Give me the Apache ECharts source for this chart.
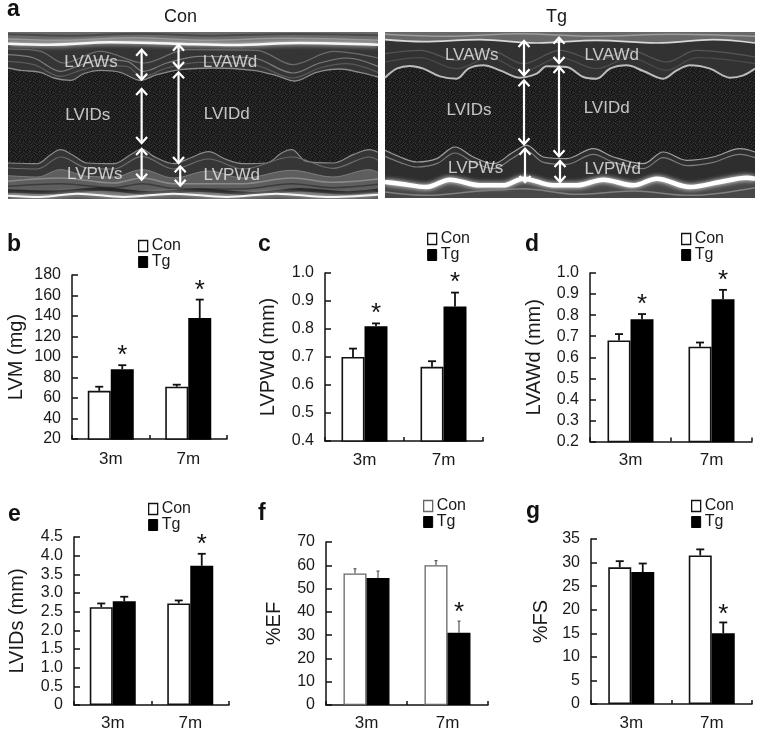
<!DOCTYPE html>
<html><head><meta charset="utf-8">
<style>html,body{margin:0;padding:0;background:#fff}#c{width:757px;height:732px}</style>
<script src="https://cdn.jsdelivr.net/npm/echarts@6/dist/echarts.min.js"></script>
</head><body><div id="c"></div>
<script>
const categories = ['3m','7m'];
const seriesNames = ['Con','Tg'];

const lvmCon=[67,71], lvmTg=[88,138], lvmConTop=[71,73], lvmTgTop=[92,156], lvmStars=[[0,105.8],[1,169.3]];
const lvpwdCon=[0.70,0.665], lvpwdTg=[0.81,0.88], lvpwdConTop=[0.73,0.685], lvpwdTgTop=[0.82,0.93], lvpwdStars=[[0,0.872],[1,0.982]];
const lvawdCon=[0.68,0.65], lvawdTg=[0.78,0.875], lvawdConTop=[0.71,0.67], lvawdTgTop=[0.805,0.92], lvawdStars=[[0,0.872],[1,0.986]];
const lvidsCon=[2.62,2.72], lvidsTg=[2.78,3.73], lvidsConTop=[2.72,2.8], lvidsTgTop=[2.9,4.05], lvidsStars=[[1,4.42]];
const efCon=[56.5,60], efTg=[54.5,31], efConTop=[58.5,62], efTgTop=[57.5,36], efStars=[[1,41.8]];
const fsCon=[29,31.5], fsTg=[28,15], fsConTop=[30.3,32.8], fsTgTop=[29.8,17.3], fsStars=[[1,20]];

// M-mode traces: [time, depth]
const conStreakA=[[22,104],[200,108],[420,102],[640,108],[880,103],[1135,107]];
const conStreakB=[[22,118],[180,122],[400,114],[620,122],[860,116],[1135,122]];
const conOuter=[[22,132],[150,135],[330,128],[520,132],[700,136],[900,130],[1135,135]];
const conLayerA=[[22,148],[120,155],[190,190],[300,155],[430,190],[560,150],[770,152],[880,195],[1000,155],[1135,175]];
const conLayerB=[[22,165],[100,175],[180,215],[230,200],[300,180],[380,185],[430,215],[500,190],[600,170],[760,175],[880,220],[960,190],[1040,175],[1135,200]];
const conLayerC=[[22,185],[100,195],[180,230],[240,212],[300,198],[380,200],[425,232],[500,205],[600,188],[760,195],[880,235],[960,205],[1040,192],[1135,218]];
const conEndoTop=[[22,205],[60,212],[120,218],[160,235],[210,242],[250,222],[300,212],[360,218],[420,242],[470,225],[540,210],[640,205],[760,212],[830,228],[885,244],[950,218],[1020,208],[1080,218],[1135,232]];
const conEndoBottom=[[22,490],[110,492],[150,465],[180,450],[215,465],[260,490],[340,492],[395,462],[425,448],[460,470],[520,492],[570,475],[625,456],[680,480],[730,492],[800,490],[845,460],[875,450],[920,485],[1000,490],[1060,465],[1110,450],[1135,458]];
const conLayerD=[[22,505],[110,508],[180,472],[260,505],[340,508],[425,470],[520,508],[625,478],[730,508],[875,472],[1000,506],[1110,472],[1135,482]];
const conBandBottom=[[22,528],[110,532],[180,510],[260,530],[340,532],[425,510],[520,535],[625,514],[730,535],[875,512],[1000,532],[1110,510],[1135,518]];
const conStreakC=[[22,545],[180,535],[340,550],[425,535],[520,552],[730,552],[875,535],[1000,548],[1135,538]];
const conStreakD=[[22,560],[180,552],[340,564],[425,552],[520,566],[730,568],[875,552],[1000,564],[1135,554]];
const conDarkBottom=[[22,574],[150,578],[300,568],[450,580],[600,572],[760,582],[900,570],[1040,580],[1135,572]];
const conEdgeBottom=[[22,588],[120,592],[230,582],[370,592],[520,582],[680,592],[830,582],[980,592],[1135,585]];

const tgStreakA=[[15,102],[200,108],[420,100],[640,108],[880,102],[1125,108]];
const tgOuter=[[15,118],[130,124],[300,118],[470,128],[650,120],[830,128],[1000,118],[1125,128]];
const tgLayerA=[[15,160],[120,150],[230,180],[330,150],[430,190],[540,150],[650,180],[750,150],[860,185],[950,150],[1125,170]];
const tgLayerD=[[15,185],[120,172],[230,205],[330,172],[430,212],[540,172],[650,205],[750,172],[860,210],[950,172],[1125,190]];
const tgEndoTop=[[15,232],[50,205],[90,197],[130,205],[180,228],[230,235],[265,205],[310,195],[360,210],[420,232],[470,220],[500,198],[560,200],[610,230],[650,235],[690,205],[740,195],[790,212],[850,235],[890,210],[930,195],[990,205],[1050,232],[1090,225],[1125,205]];
const tgEndoBottom=[[15,450],[60,470],[110,485],[170,475],[225,440],[280,470],[340,490],[400,455],[440,435],[490,470],[560,475],[640,445],[700,470],[790,490],[850,455],[920,480],[1000,470],[1080,445],[1125,455]];
const tgLayerB=[[15,468],[60,486],[110,500],[170,490],[225,458],[280,486],[340,505],[400,472],[440,452],[490,486],[560,492],[640,462],[700,486],[790,505],[850,472],[920,496],[1000,486],[1080,462],[1125,472]];
const tgBright=[[15,545],[60,550],[140,560],[210,538],[300,555],[370,555],[430,535],[520,555],[590,555],[670,538],[760,555],[830,535],[930,560],[1020,545],[1100,532],[1125,535]];
const tgLayerC=[[15,575],[140,585],[300,572],[430,565],[590,582],[760,572],[930,585],[1125,562]];

const conArrows=[[424,150,240],[424,268,430],[424,448,540],[535,135,205],[535,218,490],[540,500,558]];
const tgArrows=[[432,122,225],[432,240,432],[435,445,545],[537,112,188],[537,200,468],[540,482,545]];
const conLabels=[['LVAWs',272,187],['LVIDs',262,348],['LVPWs',283,524],['LVAWd',690,187],['LVIDd',680,343],['LVPWd',695,528]];
const tgLabels=[['LVAWs',275,165],['LVIDs',267,330],['LVPWs',287,505],['LVAWd',695,165],['LVIDd',680,325],['LVPWd',698,508]];

const FONT='"Liberation Sans", Arial, sans-serif';
const TXT='#1a1a1a';
const BAR_W=23;

const panels=[
 {letter:'b',lx:7,ly:245,l:72,r:227,t:275,b:439,min:20,max:180,iv:20,dec:0,name:'LVM (mg)',gap:46,mg:12,con:lvmCon,tg:lvmTg,ct:lvmConTop,tt:lvmTgTop,stars:lvmStars,lgx:138,lgy:238,border:'#111',bw:1.6,cap:8,ec:'#111'},
 {letter:'c',lx:258,ly:245,l:325,r:483,t:273,b:441,min:0.4,max:1.0,iv:0.1,dec:1,name:'LVPWd (mm)',gap:47,mg:11,con:lvpwdCon,tg:lvpwdTg,ct:lvpwdConTop,tt:lvpwdTgTop,stars:lvpwdStars,lgx:427,lgy:231,border:'#111',bw:1.6,cap:8,ec:'#111'},
 {letter:'d',lx:525,ly:245,l:590,r:752,t:273,b:441.5,min:0.2,max:1.0,iv:0.1,dec:1,name:'LVAWd (mm)',gap:46,mg:10,con:lvawdCon,tg:lvawdTg,ct:lvawdConTop,tt:lvawdTgTop,stars:lvawdStars,lgx:681,lgy:231,border:'#111',bw:1.6,cap:8,ec:'#111'},
 {letter:'e',lx:8,ly:515,l:74,r:229,t:537,b:705,min:0,max:4.5,iv:0.5,dec:1,name:'LVIDs (mm)',gap:47,mg:10,con:lvidsCon,tg:lvidsTg,ct:lvidsConTop,tt:lvidsTgTop,stars:lvidsStars,lgx:148,lgy:501,border:'#111',bw:1.6,cap:8,ec:'#111'},
 {letter:'f',lx:258,ly:514,l:326,r:488,t:542,b:706,min:0,max:70,iv:10,dec:0,name:'%EF',gap:42,mg:10,con:efCon,tg:efTg,ct:efConTop,tt:efTgTop,stars:efStars,lgx:423,lgy:498,border:'#666',bw:1.3,cap:3,ec:'#555'},
 {letter:'g',lx:526,ly:512,l:591,r:752,t:539,b:705,min:0,max:35,iv:5,dec:0,name:'%FS',gap:40,mg:11,con:fsCon,tg:fsTg,ct:fsConTop,tt:fsTgTop,stars:fsStars,lgx:691,lgy:498,border:'#111',bw:1.6,cap:8,ec:'#111'}
];

const grids=[], xAxes=[], yAxes=[], series=[], legends=[], graphics=[];

function letter(t,x,y){graphics.push({type:'text',left:x,top:y-12,style:{text:t,font:'bold 23px '+FONT,fill:'#111'},z:50});}
letter('a',7,10);

// Fixed speckle tile for the dark ultrasound background (texture only, carries no data)
const speckleRows=['0201030012','3012001203','1003210021','0120031102','2301002310','0012301003','1230020121','0301120300','2010302012','1102013001'];
const speckleTone=['#161616','#1f1f1f','#2a2a2a','#363636'];
function speckle(){
  const cv=document.createElement('canvas');cv.width=10;cv.height=10;
  const c=cv.getContext('2d');
  speckleRows.forEach((r,y)=>[...r].forEach((ch,x)=>{c.fillStyle=speckleTone[+ch];c.fillRect(x,y,1,1);}));
  return {image:cv,repeat:'repeat'};
}

// ---- M-mode panels
function addImage(box,xr,yr,layers,arrows,labels,title,tx){
  const g=grids.length;
  grids.push({left:box[0],top:box[1],width:box[2],height:box[3],show:true,backgroundColor:speckle(),borderWidth:0});
  xAxes.push({gridIndex:g,type:'value',min:xr[0],max:xr[1],show:false});
  yAxes.push({gridIndex:g,type:'value',min:yr[0],max:yr[1],inverse:true,show:false});
  layers.forEach((L,i)=>{
    const s={type:'line',xAxisIndex:g,yAxisIndex:g,data:L.d,showSymbol:false,smooth:0.35,silent:true,z:2+i*0.1,
      lineStyle:{color:L.c,width:L.w,opacity:L.w?1:0,shadowColor:L.glow||'transparent',shadowBlur:L.glow?5:0},animation:false};
    if(L.area){s.areaStyle={color:L.area,opacity:1,origin:L.o};}
    series.push(s);
  });
  series.push({type:'custom',xAxisIndex:g,yAxisIndex:g,z:20,silent:true,animation:false,clip:false,data:arrows,
    encode:{x:0,y:[1,2]},
    renderItem(p,api){
      const a=api.coord([api.value(0),api.value(1)]), b=api.coord([api.value(0),api.value(2)]);
      const st={stroke:'#fff',lineWidth:2.2,fill:null};
      const h=6,w=5.5;
      return {type:'group',children:[
        {type:'line',shape:{x1:a[0],y1:a[1]+1,x2:b[0],y2:b[1]-1},style:st},
        {type:'polyline',shape:{points:[[a[0]-w,a[1]+h],[a[0],a[1]],[a[0]+w,a[1]+h]]},style:st},
        {type:'polyline',shape:{points:[[b[0]-w,b[1]-h],[b[0],b[1]],[b[0]+w,b[1]-h]]},style:st}
      ]};
    }});
  series.push({type:'scatter',xAxisIndex:g,yAxisIndex:g,z:21,symbolSize:0,silent:true,animation:false,
    data:labels.map(l=>({name:l[0],value:[l[1],l[2]]})),
    label:{show:true,position:'inside',formatter:'{b}',color:'#ececec',fontFamily:FONT,fontSize:17}});
  graphics.push({type:'text',left:tx,top:8,style:{text:title,font:'18px '+FONT,fill:TXT,textAlign:'center'},z:50});
}
addImage([8,32,370,167],[22,1135],[97,598],[
  {d:conEndoTop,c:'#8a8a8a',w:1.3,area:'#353535',o:'start'},
  {d:conOuter,c:'#f6f6f6',w:2.5,area:'#6a6a6a',o:'start',glow:'#ffffff'},
  {d:conStreakA,c:'#4a4a4a',w:2},
  {d:conStreakB,c:'#9a9a9a',w:1.5},
  {d:conLayerA,c:'#6c6c6c',w:1.2},
  {d:conLayerB,c:'#7c7c7c',w:1.2},
  {d:conLayerC,c:'#5a5a5a',w:1.2},
  {d:conEndoBottom,c:'#8a8a8a',w:1.2,area:'#363636',o:'end'},
  {d:conLayerD,c:'#6c6c6c',w:1.2},
  {d:conBandBottom,c:'#7e7e7e',w:1,area:'#5e5e5e',o:'end'},
  {d:conStreakC,c:'#8a8a8a',w:1.5},
  {d:conStreakD,c:'#3c3c3c',w:1.5},
  {d:conDarkBottom,c:'#262626',w:3.5},
  {d:conEdgeBottom,c:'#f4f4f4',w:2,area:'#4c4c4c',o:'end',glow:'#ffffff'}
],conArrows,conLabels,'Con',164);
addImage([385,32,370,166],[15,1125],[95,593],[
  {d:tgEndoTop,c:'#bcbcbc',w:2,area:'#323232',o:'start'},
  {d:tgOuter,c:'#d8d8d8',w:1.6,area:'#696969',o:'start'},
  {d:tgStreakA,c:'#9c9c9c',w:1.5},
  {d:tgLayerA,c:'#565656',w:1.2},
  {d:tgLayerD,c:'#4c4c4c',w:1.2},
  {d:tgEndoBottom,c:'#a0a0a0',w:1.2,area:'#2e2e2e',o:'end'},
  {d:tgLayerB,c:'#7c7c7c',w:1.2},
  {d:tgBright,c:'#ffffff',w:4.5,area:'#484848',o:'end',glow:'#ffffff'},
  {d:tgLayerC,c:'#808080',w:1.5}
],tgArrows,tgLabels,'Tg',546);

// ---- Bar panels
panels.forEach(P=>{
  const g=grids.length;
  grids.push({left:P.l,top:P.t,width:P.r-P.l,height:P.b-P.t});
  xAxes.push({gridIndex:g,type:'category',data:categories,boundaryGap:true,
    axisLine:{show:true,lineStyle:{color:'#111',width:1.5}},
    axisTick:{show:true,inside:true,length:4,lineStyle:{color:'#111',width:1.5}},
    axisLabel:{color:TXT,fontFamily:FONT,fontSize:17,margin:P.mg}});
  yAxes.push({gridIndex:g,type:'value',min:P.min,max:P.max,interval:P.iv,
    name:P.name,nameLocation:'middle',nameGap:P.gap,nameRotate:90,
    nameTextStyle:{color:TXT,fontFamily:FONT,fontSize:20},
    splitLine:{show:false},
    axisLine:{show:true,onZero:false,lineStyle:{color:'#111',width:1.5}},
    axisTick:{show:true,inside:true,length:6,lineStyle:{color:'#111',width:1.5}},
    axisLabel:{color:TXT,fontFamily:FONT,fontSize:16,margin:11,
      formatter:v=>(P.dec&&v!==0)?v.toFixed(P.dec):String(Math.round(v))}});
  series.push({type:'bar',name:'Con',xAxisIndex:g,yAxisIndex:g,data:P.con,barWidth:BAR_W,barGap:'0%',animation:false,
    itemStyle:{color:'#fff',borderColor:P.border,borderWidth:P.bw}});
  series.push({type:'bar',name:'Tg',xAxisIndex:g,yAxisIndex:g,data:P.tg,barWidth:BAR_W,barGap:'0%',animation:false,
    itemStyle:{color:'#000',borderColor:'#000',borderWidth:P.bw}});
  const errSeries=(vals,tops,sign)=>({type:'custom',xAxisIndex:g,yAxisIndex:g,z:1,animation:false,silent:true,
    data:vals.map((v,i)=>[i,tops[i],v]),encode:{x:0,y:[1,2]},
    renderItem(p,api){
      const a=api.coord([api.value(0),api.value(1)]), b=api.coord([api.value(0),api.value(2)]);
      const x=a[0]+sign*BAR_W/2, st={stroke:P.ec,lineWidth:P.cap<5?1.2:1.8};
      return {type:'group',children:[
        {type:'line',shape:{x1:x,y1:a[1],x2:x,y2:b[1]},style:st},
        {type:'line',shape:{x1:x-P.cap/2,y1:a[1],x2:x+P.cap/2,y2:a[1]},style:st}]};
    }});
  series.push(errSeries(P.con,P.ct,-1));
  series.push(errSeries(P.tg,P.tt,1));
  series.push({type:'custom',xAxisIndex:g,yAxisIndex:g,z:5,animation:false,silent:true,data:P.stars,encode:{x:0,y:1},
    renderItem(p,api){
      const a=api.coord([api.value(0),api.value(1)]);
      return {type:'text',style:{text:'*',x:a[0]+BAR_W/2,y:a[1]+5,align:'center',verticalAlign:'middle',font:'26px '+FONT,fill:'#111'}};
    }});
  legends.push({left:P.lgx,top:P.lgy,orient:'vertical',padding:0,itemGap:0,itemWidth:9,itemHeight:11,
    selectedMode:false,icon:'rect',textStyle:{color:TXT,fontFamily:FONT,fontSize:16,padding:[0,0,0,-1]},
    data:[{name:'Con',itemStyle:{color:'#fff',borderColor:P.border,borderWidth:1.3}},{name:'Tg',itemStyle:{color:'#000',borderColor:'#000',borderWidth:1}}]});
  letter(P.letter,P.lx,P.ly);
});

const chart=echarts.init(document.getElementById('c'),null,{renderer:'canvas'});
chart.setOption({animation:false,backgroundColor:'#fff',grid:grids,xAxis:xAxes,yAxis:yAxes,series,legend:legends,graphic:graphics,tooltip:{show:false}});
</script></body></html>
